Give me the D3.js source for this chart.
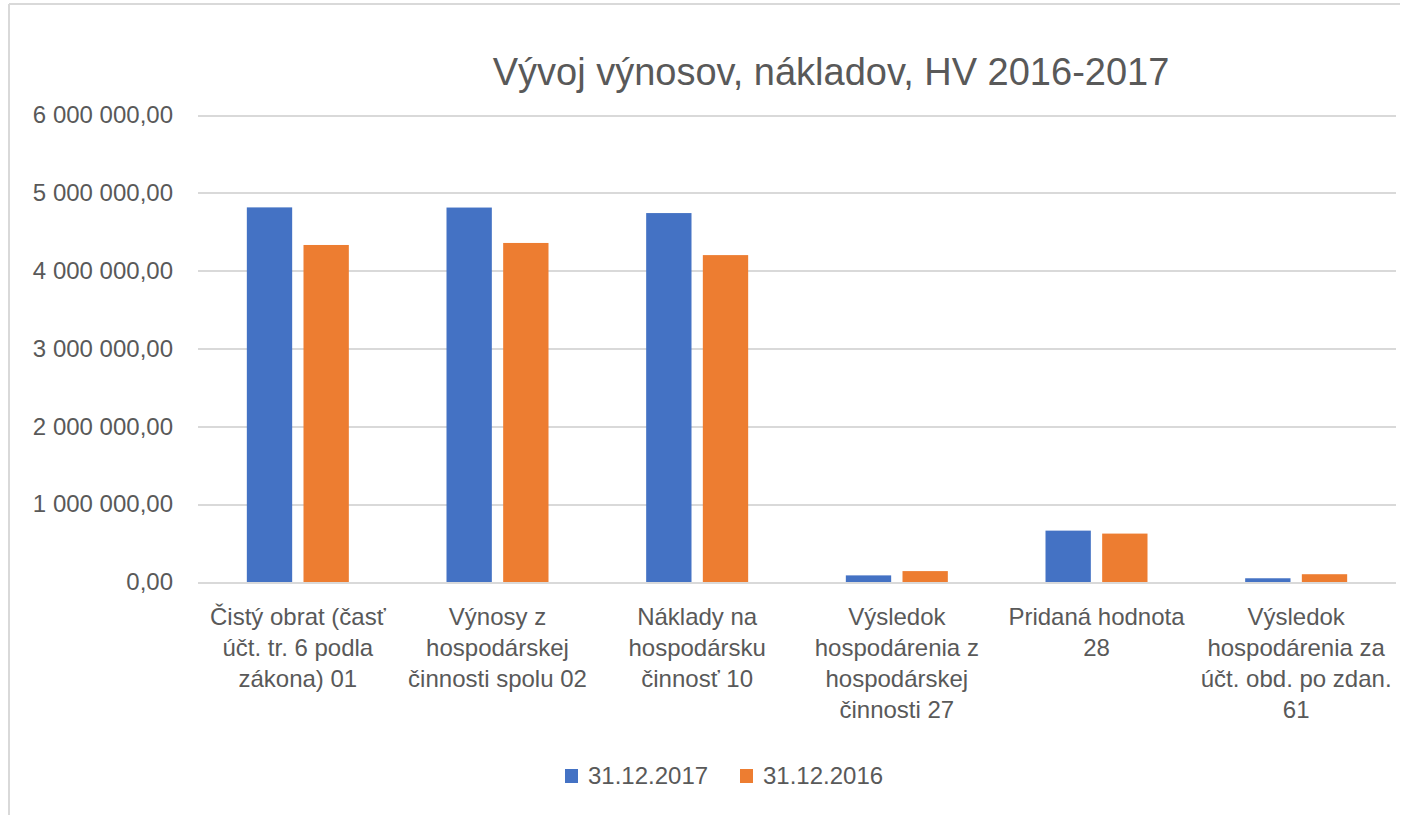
<!DOCTYPE html>
<html>
<head>
<meta charset="UTF-8">
<style>
  body { margin: 0; background: #fff; }
  svg text { font-family: "Liberation Sans", Arial, sans-serif; fill: #595959; }
  .grid line { stroke: #d9d9d9; stroke-width: 2; shape-rendering: crispEdges; }
</style>
</head>
<body>
<script src="https://cdn.jsdelivr.net/npm/d3@7"></script>
<script>
var categories = [
  ["Čistý obrat (časť", "účt. tr. 6 podla", "zákona) 01"],
  ["Výnosy z", "hospodárskej", "činnosti spolu 02"],
  ["Náklady na", "hospodársku", "činnosť 10"],
  ["Výsledok", "hospodárenia z", "hospodárskej", "činnosti 27"],
  ["Pridaná hodnota", "28"],
  ["Výsledok", "hospodárenia za", "účt. obd. po zdan.", "61"]
];
var series = ["31.12.2017", "31.12.2016"];
var values2017 = [4813000, 4811000, 4740000, 85000, 660000, 48000];
var values2016 = [4330000, 4356000, 4200000, 140000, 622000, 100000];
var yTicks = [0, 1000000, 2000000, 3000000, 4000000, 5000000, 6000000];
var colors = ["#4472C4", "#ED7D31"];

var w = 1412, h = 815;
var plotLeft = 198, plotRight = 1396, plotTop = 115, plotBottom = 582;

var svg = d3.select("body").append("svg")
  .attr("width", w).attr("height", h);

// chart frame (top and left edges visible in the crop)
svg.append("line").attr("x1", 9).attr("x2", 1400).attr("y1", 4).attr("y2", 4)
  .attr("stroke", "#d9d9d9").attr("stroke-width", 2);
svg.append("line").attr("x1", 9).attr("x2", 9).attr("y1", 4).attr("y2", h)
  .attr("stroke", "#d9d9d9").attr("stroke-width", 2);

var x0 = d3.scaleBand().domain(d3.range(categories.length)).range([plotLeft, plotRight]);
var x1 = d3.scaleBand().domain([0, 1]).range([x0.bandwidth() / 2 - 51, x0.bandwidth() / 2 + 51])
  .paddingInner(0.2);
var y = d3.scaleLinear().domain([0, 6000000]).range([plotBottom, plotTop]);

var fmt = function (v) {
  var s = d3.format(",.2f")(v);
  return s.replace(/,/g, " ").replace(".", ",");
};

var yAxis = d3.axisLeft(y).tickValues(yTicks).tickSize(-(plotRight - plotLeft)).tickPadding(25).tickFormat(fmt);
var gy = svg.append("g").attr("class", "grid")
  .attr("transform", "translate(" + plotLeft + ",0)")
  .call(yAxis);
gy.select(".domain").remove();
gy.selectAll("text").attr("font-size", 24).attr("fill", "#595959")
  .style("font-family", "Liberation Sans, Arial, sans-serif");

var data = categories.map(function (c, i) { return [values2017[i], values2016[i]]; });

var groups = svg.selectAll("g.cat").data(data).enter().append("g")
  .attr("class", "cat")
  .attr("transform", function (d, i) { return "translate(" + x0(i) + ",0)"; });
groups.selectAll("rect").data(function (d) { return d; }).enter().append("rect")
  .attr("x", function (d, j) { return x1(j); })
  .attr("width", x1.bandwidth())
  .attr("y", function (d) { return y(d); })
  .attr("height", function (d) { return y(0) - y(d); })
  .attr("fill", function (d, j) { return colors[j]; });

// category labels
var labels = svg.selectAll("text.cat").data(categories).enter().append("text")
  .attr("class", "cat")
  .attr("text-anchor", "middle")
  .attr("font-size", 24)
  .attr("x", function (d, i) { return x0(i) + x0.bandwidth() / 2; })
  .attr("y", 625);
labels.selectAll("tspan").data(function (d) { return d; }).enter().append("tspan")
  .attr("x", function () { return this.parentNode.getAttribute("x"); })
  .attr("dy", function (d, k) { return k === 0 ? 0 : 31; })
  .text(function (d) { return d; });

// title
svg.append("text")
  .attr("x", 831).attr("y", 85)
  .attr("text-anchor", "middle")
  .attr("font-size", 38)
  .text("Vývoj výnosov, nákladov, HV 2016-2017");

// legend
var legendX = [565, 740];
var lg = svg.selectAll("g.legend").data(series).enter().append("g")
  .attr("class", "legend")
  .attr("transform", function (d, i) { return "translate(" + legendX[i] + ",769)"; });
lg.append("rect").attr("width", 13).attr("height", 14)
  .attr("fill", function (d, i) { return colors[i]; });
lg.append("text").attr("x", 23).attr("y", 15).attr("font-size", 24)
  .text(function (d) { return d; });
</script>
</body>
</html>
